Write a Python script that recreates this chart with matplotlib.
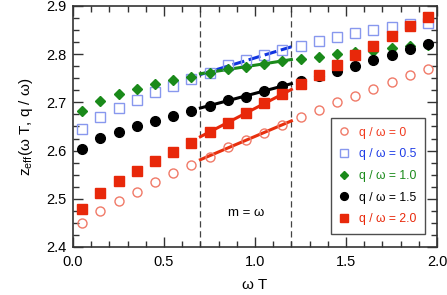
import numpy as np
import matplotlib
matplotlib.use('Agg')
import matplotlib.pyplot as plt
from matplotlib.ticker import MultipleLocator, FormatStrFormatter

plt.rcParams['font.family'] = ['Liberation Sans', 'DejaVu Sans']
plt.rcParams['mathtext.fontset'] = 'custom'
plt.rcParams['mathtext.rm'] = 'Liberation Sans'

wT = np.arange(0.05, 2.0, 0.1)

z_q00 = [2.449, 2.475, 2.495, 2.515, 2.534, 2.553, 2.570, 2.587, 2.608, 2.622,
         2.637, 2.653, 2.669, 2.684, 2.700, 2.714, 2.728, 2.742, 2.756, 2.769]
z_q05 = [2.645, 2.669, 2.688, 2.705, 2.722, 2.735, 2.748, 2.762, 2.777, 2.787,
         2.798, 2.809, 2.818, 2.827, 2.836, 2.843, 2.850, 2.857, 2.863, 2.865]
z_q10 = [2.683, 2.703, 2.717, 2.728, 2.738, 2.746, 2.753, 2.762, 2.769, 2.774,
         2.780, 2.786, 2.791, 2.795, 2.800, 2.805, 2.807, 2.812, 2.817, 2.819]
z_q15 = [2.603, 2.626, 2.639, 2.651, 2.662, 2.672, 2.683, 2.693, 2.705, 2.712,
         2.724, 2.734, 2.745, 2.755, 2.765, 2.776, 2.788, 2.798, 2.810, 2.821]
z_q20 = [2.478, 2.511, 2.536, 2.558, 2.578, 2.598, 2.616, 2.639, 2.658, 2.677,
         2.698, 2.717, 2.738, 2.757, 2.778, 2.798, 2.818, 2.838, 2.858, 2.877]

labels = ['q / ω = 0', 'q / ω = 0.5', 'q / ω = 1.0', 'q / ω = 1.5', 'q / ω = 2.0']
fit_range = (0.7, 1.2)

# marker, face, edge, text colour, line colour, line style, size
styles = [
    ('o', 'none', '#F07A68', '#F03A1E', '#E8300E', '-', 6.5),
    ('s', 'none', '#8898EE', '#1E3CE6', '#1034E0', (0, (4, 1.5)), 6.5),
    ('D', '#1A8A1A', '#1A8A1A', '#1A8A1A', '#1A8A1A', '-', 5.5),
    ('o', 'black', 'black', 'black', 'black', '-', 7),
    ('s', '#E8280A', '#E8280A', '#E8280A', '#E8280A', '-', 6.5),
]
series = [z_q00, z_q05, z_q10, z_q15, z_q20]

fig = plt.figure(figsize=(4.47, 2.95), dpi=100)
ax = fig.add_axes([73 / 447, 48 / 295, 364 / 447, 241 / 295])

xs = np.array(wT)
mask = (xs > fit_range[0]) & (xs < fit_range[1])
xf = np.array(fit_range)
for z, lab, (m, fc, ec, tc, lc, ls, ms) in zip(series, labels, styles):
    z = np.array(z)
    p = np.polyfit(xs[mask], z[mask], 1)
    ax.plot(xf, np.polyval(p, xf), color=lc, lw=2.2, ls=ls, zorder=2)
    ax.plot(xs, z, ls='none', marker=m, mfc=fc, mec=ec, ms=ms, mew=1.0,
            label=lab, zorder=3)

for xv in fit_range:
    ax.axvline(xv, color='#444444', lw=0.9, ls=(0, (5, 3)), zorder=1)

ax.text(0.95, 2.47, 'm = ω', fontsize=9.5, ha='center', va='center')

ax.set_xlim(0, 2.0)
ax.set_ylim(2.4, 2.9)
ax.xaxis.set_major_locator(MultipleLocator(0.5))
ax.xaxis.set_minor_locator(MultipleLocator(0.1))
ax.yaxis.set_major_locator(MultipleLocator(0.1))
ax.yaxis.set_minor_locator(MultipleLocator(0.025))
ax.xaxis.set_major_formatter(FormatStrFormatter('%.1f'))
ax.yaxis.set_major_formatter(FormatStrFormatter('%.1f'))
ax.tick_params(which='both', direction='in', top=True, right=True,
               color='#333333', labelsize=10.5)
ax.tick_params(which='major', length=7, width=1)
ax.tick_params(which='minor', length=4, width=1)
ax.tick_params(axis='x', pad=6)
ax.tick_params(axis='y', pad=5)
for s in ax.spines.values():
    s.set_color('#333333')
    s.set_linewidth(1.2)

ax.set_xlabel('ω T', fontsize=11, labelpad=6)
ax.set_ylabel('z$_{\\mathrm{eff}}$(ω T, q / ω)', fontsize=11, labelpad=8)

leg = ax.legend(loc='lower right', bbox_to_anchor=(0.966, 0.055), frameon=True,
                fancybox=False, edgecolor='#222222', fontsize=8.7,
                handlelength=0.8, handletextpad=0.8, borderpad=0.7,
                labelspacing=0.8, markerscale=0.8, borderaxespad=0)
leg.get_frame().set_linewidth(1.0)
for t, st in zip(leg.get_texts(), styles):
    t.set_color(st[3])

fig.savefig('out.png', dpi=100)
